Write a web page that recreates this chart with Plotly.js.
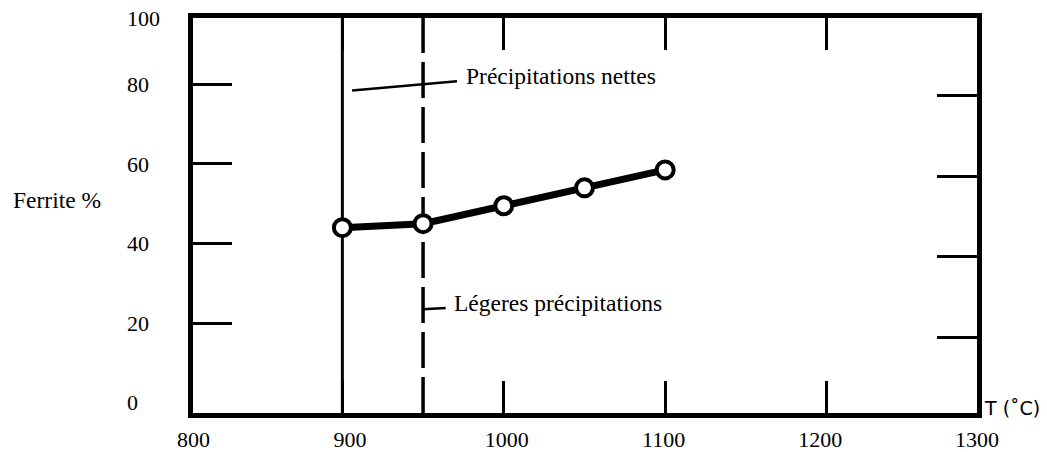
<!DOCTYPE html>
<html>
<head>
<meta charset="utf-8">
<script src="https://cdn.plot.ly/plotly-3.0.1.min.js"></script>
<style>html,body{margin:0;padding:0;background:#fff;}#chart{width:1047px;height:452px;}</style>
</head>
<body>
<div id="chart"></div>
<script>
// ---- data ----
const temperature = [900, 950, 1000, 1050, 1100];          // T (°C)
const ferrite = [44, 45, 49.5, 54, 58.5];                  // Ferrite %
const boundaryTemps = [900, 950];                           // solid / dashed boundaries
const boundaryLabels = ['Précipitations nettes', 'Légeres précipitations'];
const xTickVals = [800, 900, 1000, 1100, 1200, 1300];
const xTickText = ['800', '900', '1000', '1100', '1200', '1300'];
const xInnerTicks = [900, 1000, 1100, 1200];
const yTickVals = [0, 20, 40, 60, 80];
const yTickText = ['0', '20', '40', '60', '80'];
const yTopTick = [100];
const yTopText = ['100'];
const yInnerTicks = [20, 40, 60, 80];

const serif = 'Liberation Serif, Times New Roman, serif';

const W = 1047, H = 452;
const ML = 0, MR = 69.5, MT = 17.5, MB = 39;
const PW = W - ML - MR, PH = H - MT - MB;
const px = v => (v - ML) / PW;          // pixel x -> paper
const py = v => (H - MB - v) / PH;      // pixel y -> paper

const trace = {
  x: temperature, y: ferrite, type: 'scatter', mode: 'lines+markers',
  xaxis: 'x', yaxis: 'y',
  line: {color: '#000', width: 7},
  marker: {symbol: 'circle', size: 17, color: '#fff', line: {color: '#000', width: 4}},
  hoverinfo: 'x+y'
};
// empty carriers so that the extra (label / mirror) axes are drawn
const carriers = [
  {x: [], y: [], type: 'scatter', mode: 'markers', xaxis: 'x2', yaxis: 'y', hoverinfo: 'skip'},
  {x: [], y: [], type: 'scatter', mode: 'markers', xaxis: 'x', yaxis: 'y2', hoverinfo: 'skip'},
  {x: [], y: [], type: 'scatter', mode: 'markers', xaxis: 'x', yaxis: 'y3', hoverinfo: 'skip'},
  {x: [], y: [], type: 'scatter', mode: 'markers', xaxis: 'x', yaxis: 'y4', hoverinfo: 'skip'}
];

const labelAxis = {
  overlaying: 'y', anchor: 'free', position: px(126), side: 'right',
  tickmode: 'array', ticks: '',
  showline: false, showgrid: false, zeroline: false,
  tickfont: {family: serif, size: 22, color: '#000'}
};

const layout = {
  width: W, height: H,
  margin: {l: ML, r: MR, t: MT, b: MB, pad: 0},
  paper_bgcolor: '#fff', plot_bgcolor: '#fff',
  showlegend: false,
  xaxis: {
    domain: [px(193.5), 1], range: [807.7, 1293.2],
    tickmode: 'array', tickvals: xInnerTicks, ticks: 'inside', ticklen: 32, tickwidth: 3, tickcolor: '#000',
    showticklabels: false, showline: true, linewidth: 5, linecolor: '#000', mirror: 'ticks',
    showgrid: false, zeroline: false
  },
  xaxis2: {
    overlaying: 'x', anchor: 'y', side: 'bottom', range: [800, 1300],
    tickmode: 'array', tickvals: xTickVals, ticktext: xTickText, ticks: '', ticklabelstandoff: 11,
    showline: false, showgrid: false, zeroline: false,
    tickfont: {family: serif, size: 22, color: '#000'}
  },
  yaxis: {
    anchor: 'x', range: [-2.6, 96.7],
    tickmode: 'array', tickvals: yInnerTicks, ticks: 'inside', ticklen: 39, tickwidth: 3, tickcolor: '#000',
    showticklabels: false, showline: true, linewidth: 5, linecolor: '#000', mirror: false,
    showgrid: false, zeroline: false
  },
  yaxis2: {
    overlaying: 'y', anchor: 'x', side: 'right', range: [1.2, 99.2],
    tickmode: 'array', tickvals: yInnerTicks, ticks: 'inside', ticklen: 40, tickwidth: 3, tickcolor: '#000',
    showticklabels: false, showline: true, linewidth: 5, linecolor: '#000',
    showgrid: false, zeroline: false
  },
  yaxis3: Object.assign({}, labelAxis, {range: [-2.6, 96.7], tickvals: yTickVals, ticktext: yTickText}),
  yaxis4: Object.assign({}, labelAxis, {range: [-2.68, 100.13], tickvals: yTopTick, ticktext: yTopText}),
  shapes: [
    {type: 'line', layer: 'below', xref: 'x', yref: 'paper', x0: boundaryTemps[0], x1: boundaryTemps[0], y0: 0, y1: 1,
     line: {color: '#000', width: 3}},
    {type: 'line', layer: 'below', xref: 'x', yref: 'paper', x0: boundaryTemps[1], x1: boundaryTemps[1], y0: 0, y1: 1,
     line: {color: '#000', width: 3.5, dash: '36px,9px'}},
    // leader lines
    {type: 'line', layer: 'below', xref: 'x', yref: 'y', x0: 906, y0: 78.5, x1: 971, y1: 80.8,
     line: {color: '#000', width: 2.5}},
    {type: 'line', layer: 'below', xref: 'x', yref: 'y', x0: boundaryTemps[1], y0: 23.5, x1: 964, y1: 23.8,
     line: {color: '#000', width: 2.5}}
  ],
  annotations: [
    {xref: 'x', yref: 'y', x: 975.5, y: 82, text: boundaryLabels[0], showarrow: false,
     xanchor: 'left', yanchor: 'middle', font: {family: serif, size: 23.5, color: '#000'}},
    {xref: 'x', yref: 'y', x: 968, y: 25, text: boundaryLabels[1], showarrow: false,
     xanchor: 'left', yanchor: 'middle', font: {family: serif, size: 23.5, color: '#000'}},
    {xref: 'paper', yref: 'paper', x: px(11), y: py(200), text: 'Ferrite %', showarrow: false,
     xanchor: 'left', yanchor: 'middle', font: {family: serif, size: 23.5, color: '#000'}},
    {xref: 'paper', yref: 'paper', x: px(983), y: py(408), text: 'T (˚C)', showarrow: false,
     xanchor: 'left', yanchor: 'middle', font: {family: 'DejaVu Sans, sans-serif', size: 19, color: '#000'}}
  ]
};

Plotly.newPlot('chart', [trace].concat(carriers), layout, {displayModeBar: false, staticPlot: true});
</script>
</body>
</html>
